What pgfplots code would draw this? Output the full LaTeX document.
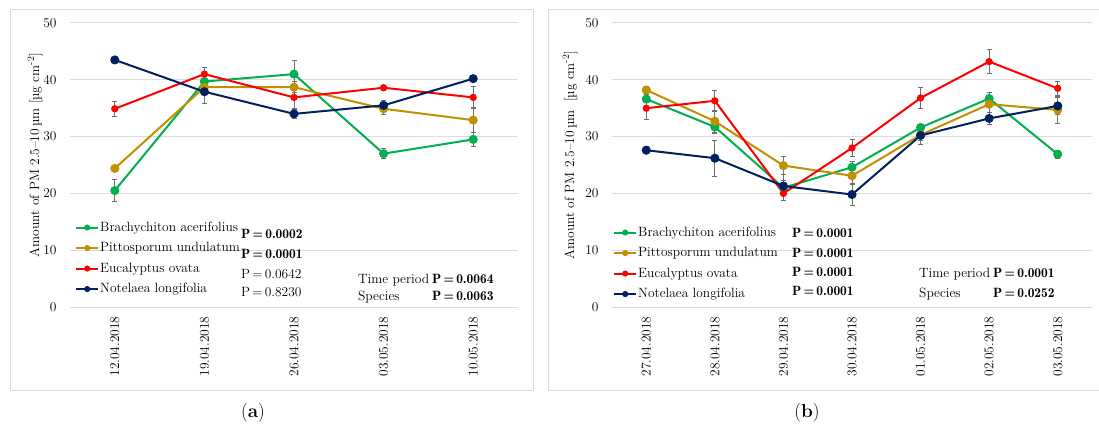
\documentclass[border=0pt]{standalone}
\usepackage{pgfplots}
\pgfplotsset{compat=1.18}
\usepackage{pgfplotstable}
\definecolor{cgreen}{RGB}{0,176,80}
\definecolor{cgold}{RGB}{191,144,0}
\definecolor{cred}{RGB}{255,0,0}
\definecolor{cnavy}{RGB}{0,32,96}
\definecolor{gridc}{RGB}{220,220,220}
\definecolor{errc}{RGB}{110,110,110}
\newcommand\myfs{\fontsize{13.5}{17}\selectfont}
\newcommand\pv[1]{P\,=\,#1}
\newcommand\pb[1]{{\fontseries{b}\selectfont P\,=\,#1}}

\pgfplotstableread{
x  g    eg   o    eo   r    er   n    en
0  20.5 1.9  24.4 0.3  34.9 1.3  43.5 0.3
1  39.7 1.0  38.7 1.0  41.0 1.1  37.9 2.0
2  41.0 2.5  38.7 1.0  36.9 2.0  34.0 0.8
3  27.0 0.9  34.9 1.0  38.6 0.5  35.5 0.8
4  29.5 1.2  32.9 2.2  36.9 2.0  40.2 0.5
}\tabA
\pgfplotstableread{
x  g    eg   o    eo   r    er   n    en
0  36.6 1.5  38.2 0.7  35.0 1.9  27.6 0.6
1  31.7 1.2  32.7 2.0  36.3 1.9  26.2 3.2
2  21.0 2.3  24.9 1.6  20.0 1.2  21.3 1.0
3  24.6 1.0  23.1 1.5  28.0 1.5  19.8 2.0
4  31.6 0.5  30.3 1.0  36.8 1.9  30.2 1.6
5  36.7 1.0  35.7 1.5  43.2 2.1  33.2 1.0
6  26.9 0.7  34.7 2.3  38.5 1.3  35.4 1.5
}\tabB

\pgfplotsset{
  base/.style={
    scale only axis, height=284bp, anchor=south west,
    ymin=0, ymax=50, ytick={0,10,...,50},
    ymajorgrids, grid style={line width=1bp, color=gridc},
    axis line style={draw=none}, major tick length=0pt,
    tick label style={font=\myfs},
    /pgf/number format/assume math mode=true,
    yticklabel style={xshift=-10bp},
    xticklabel style={rotate=90, anchor=east, yshift=0bp, xshift=-6bp},
    xtick=data,
    ylabel={Amount of PM 2.5–10\,µm [µg cm\textsuperscript{-2}]},
    ylabel style={font=\myfs, anchor=center},
    clip=false,
    legend style={draw=none, fill=none, font=\myfs, inner sep=0pt,
      cells={anchor=west}, row sep=5.5bp,
      nodes={inner sep=1bp, text height=10bp, text depth=3bp}},
    legend image code/.code={\draw[mark repeat=2,mark phase=2,#1,mark size=2bp]
      plot coordinates {(0bp,0bp) (11bp,0bp) (22bp,0bp)};},
    every axis plot/.append style={line width=2bp, mark=*},
    error bars/y dir=both, error bars/y explicit,
    error bars/error bar style={errc, line width=0.8bp},
    error bars/error mark options={rotate=90, mark size=2.5bp, errc, line width=0.8bp},
  },
  sg/.style={cgreen, mark size=3.5bp, mark options={fill=cgreen, draw=cgreen}},
  so/.style={cgold, mark size=3.5bp, mark options={fill=cgold, draw=cgold}},
  sr/.style={cred, mark size=2.6bp, mark options={fill=cred, draw=cred}},
  sn/.style={cnavy, mark size=3.5bp, mark options={fill=cnavy, draw=cnavy}},
}

\begin{document}
\begin{tikzpicture}
\useasboundingbox (0,0) rectangle (1099bp,430bp);
\draw[gridc, line width=1bp] (10bp,39bp) rectangle (533bp,420bp);
\draw[gridc, line width=1bp] (548bp,39bp) rectangle (1110bp,420bp);

\begin{axis}[base, at={(70bp,123bp)}, width=448bp,
  xmin=-0.5, xmax=4.5,
  xticklabels={12.04.2018,19.04.2018,26.04.2018,03.05.2018,10.05.2018},
  ylabel style={at={(axis description cs:-0.078,0.535)}},
  legend style={at={(axis cs:-0.444,15.34)}, anchor=north west}]
\addplot[sg] table[x=x, y=g, y error=eg] {\tabA};
\addlegendentry{Brachychiton acerifolius}
\addplot[so] table[x=x, y=o, y error=eo] {\tabA};
\addlegendentry{Pittosporum undulatum}
\addplot[sr] table[x=x, y=r, y error=er] {\tabA};
\addlegendentry{Eucalyptus ovata}
\addplot[sn] table[x=x, y=n, y error=en] {\tabA};
\addlegendentry{Notelaea longifolia}
\node[anchor=west, font=\myfs, inner sep=0pt] at (axis cs:1.408,12.87) {\pb{0.0002}};
\node[anchor=west, font=\myfs, inner sep=0pt] at (axis cs:1.408,9.35) {\pb{0.0001}};
\node[anchor=west, font=\myfs, inner sep=0pt] at (axis cs:1.408,5.82) {\pv{0.0642}};
\node[anchor=west, font=\myfs, inner sep=0pt] at (axis cs:1.408,2.70) {\pv{0.8230}};
\node[anchor=west, font=\myfs, inner sep=0pt] at (axis cs:2.714,3.26)
  {\begin{tabular}{@{}l@{\hspace{3bp}}r@{}}Time period & \pb{0.0064}\\ Species & \pb{0.0063}\end{tabular}};
\end{axis}

\begin{axis}[base, at={(612bp,123bp)}, width=480bp,
  xmin=-0.5, xmax=6.5,
  xticklabels={27.04.2018,28.04.2018,29.04.2018,30.04.2018,01.05.2018,02.05.2018,03.05.2018},
  ylabel={Amount of PM 2.5–10\,µm\ \ [µg cm\textsuperscript{-2}]},
  ylabel style={at={(axis description cs:-0.0875,0.535)}},
  legend style={at={(axis cs:-0.485,14.46)}, anchor=north west}]
\addplot[sg] table[x=x, y=g, y error=eg] {\tabB};
\addlegendentry{Brachychiton acerifolius}
\addplot[so] table[x=x, y=o, y error=eo] {\tabB};
\addlegendentry{Pittosporum undulatum}
\addplot[sr] table[x=x, y=r, y error=er] {\tabB};
\addlegendentry{Eucalyptus ovata}
\addplot[sn] table[x=x, y=n, y error=en] {\tabB};
\addlegendentry{Notelaea longifolia}
\node[anchor=west, font=\myfs, inner sep=0pt] at (axis cs:2.125,13.05) {\pb{0.0001}};
\node[anchor=west, font=\myfs, inner sep=0pt] at (axis cs:2.125,9.52) {\pb{0.0001}};
\node[anchor=west, font=\myfs, inner sep=0pt] at (axis cs:2.125,6.17) {\pb{0.0001}};
\node[anchor=west, font=\myfs, inner sep=0pt] at (axis cs:2.125,2.82) {\pb{0.0001}};
\node[anchor=west, font=\myfs, inner sep=0pt] at (axis cs:3.977,4.06)
  {\begin{tabular}{@{}l@{\hspace{3bp}}r@{}}Time period & \pb{0.0001}\\[3bp] Species & \pb{0.0252}\end{tabular}};
\end{axis}

\node[font=\fontsize{19}{22}\selectfont] at (253bp,17bp) {(\textbf{a})};
\node[font=\fontsize{19}{22}\selectfont] at (807bp,17bp) {(\textbf{b})};
\end{tikzpicture}
\end{document}
